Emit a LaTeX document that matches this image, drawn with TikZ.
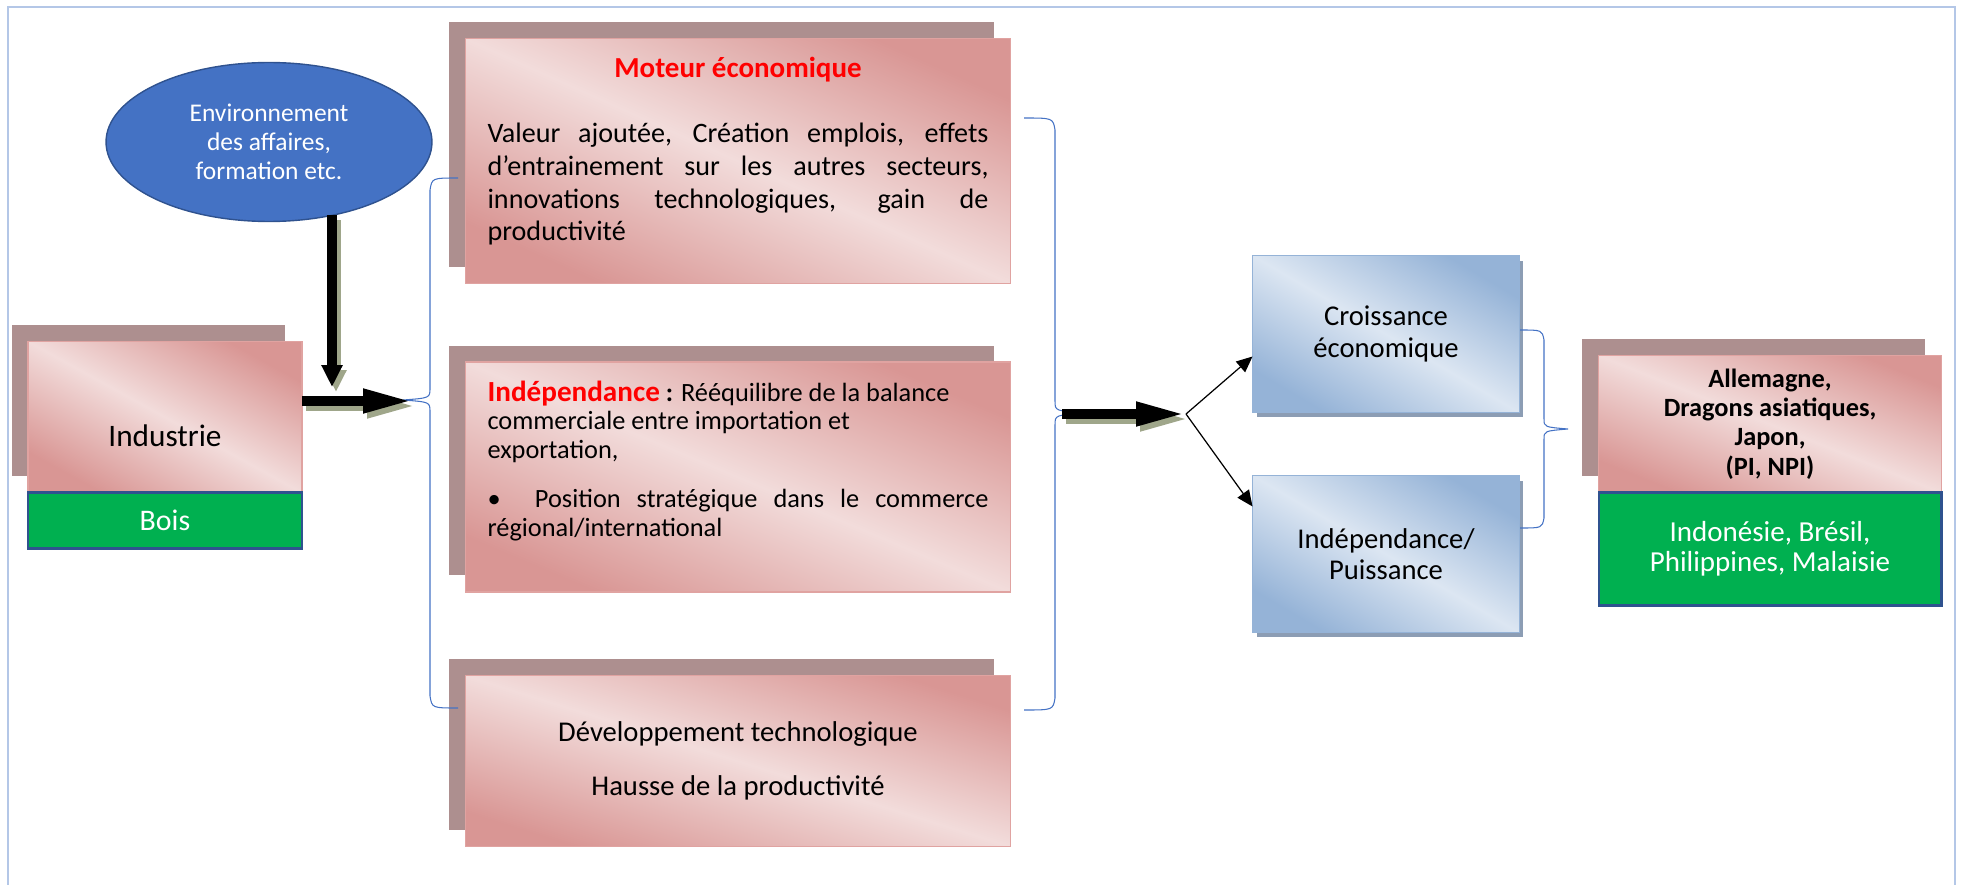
\documentclass[tikz,border=0pt]{standalone}
\usepackage{fontspec}
\setmainfont{Carlito}
\usetikzlibrary{positioning,shapes.geometric,shadows,arrows.meta}
\setlength{\parindent}{0pt}

\definecolor{roseclair}{HTML}{F2DCDB}
\definecolor{rosefonce}{HTML}{D99694}
\definecolor{bordrose}{HTML}{E0A3A1}
\definecolor{ombrerose}{HTML}{AD8F8F}
\definecolor{bleuclair}{HTML}{DCE6F2}
\definecolor{bleufonce}{HTML}{95B3D7}
\definecolor{ombrebleu}{HTML}{8C9DB4}
\definecolor{vertvif}{HTML}{00B050}
\definecolor{bleunuit}{HTML}{2F528F}
\definecolor{bleuellipse}{HTML}{4472C4}
\definecolor{cadrebleu}{HTML}{B4C7E7}
\definecolor{kaki}{HTML}{9FA68A}
\definecolor{rouge}{HTML}{FF0000}

\begin{document}
\begin{tikzpicture}[
  x=0.02cm, y=-0.02cm,
  every node/.style={inner sep=0pt, outer sep=0pt},
  % l'angle suit la diagonale de chaque boite
  boiterose/.style={draw=bordrose, line width=1pt, top color=rosefonce, bottom color=rosefonce,
    middle color=roseclair, shading angle=#1,
    drop shadow={shadow xshift=-0.33cm, shadow yshift=0.33cm, fill=ombrerose, opacity=1}},
  boiterose/.default=-24,
  boitebleue/.style={draw=bleufonce, line width=1pt, top color=bleufonce, bottom color=bleufonce,
    middle color=bleuclair, shading angle=-30.5,
    drop shadow={shadow xshift=0.08cm, shadow yshift=-0.1cm, fill=ombrebleu, opacity=1},
    minimum width=5.34cm, minimum height=3.14cm, align=center, font=\fontsize{16.3}{18}\selectfont},
  boiteverte/.style={draw=bleunuit, line width=1.2pt, fill=vertvif, text=white, align=center}
]
\tikzset{
  grosfleche/.style={line width=0.2cm, -{Triangle[length=1cm, width=0.44cm]}},
  ombre/.style={draw=kaki, transform canvas={xshift=0.08cm, yshift=-0.1cm}},
  fleche/.style={line width=0.7pt, -{Triangle[length=0.32cm, width=0.28cm]}},
  accolade/.style={draw=bleuellipse, line width=0.6pt}
}
\useasboundingbox (0,0) rectangle (1966,885);
\draw[cadrebleu, line width=1.2pt] (8,885) -- (8,7) -- (1955,7) -- (1955,885); % cadre ouvert en bas

\node[ellipse, draw=bleunuit, fill=bleuellipse, line width=0.8pt, minimum width=6.52cm, minimum height=3.18cm,
  text=white, align=center, font=\fontsize{14.5}{16.4}\selectfont] (envi) at (269,142)
  {Environnement\\des affaires,\\formation etc.};

\node[boiterose=-28.9, minimum width=5.48cm, minimum height=3.02cm] (indus) at (165,417) {};
\node[font=\fontsize{17.8}{20}\selectfont] (industrie) at ([yshift=-0.38cm]indus.center) {Industrie};
\node[boiteverte, below=0cm of indus, minimum width=5.48cm, minimum height=1.12cm,
  font=\fontsize{17}{20}\selectfont] (bois) {Bois};

\node[boiterose=-24.2, minimum width=10.9cm, minimum height=4.9cm] (moteur) at (738,161) {};
\node[below=0.38cm of moteur.north, text width=10.02cm, align=justify, font=\fontsize{16}{18.7}\selectfont] (moteurT)
  {{\centering\fontsize{16.5}{18.7}\selectfont\bfseries\color{rouge}Moteur économique\par}\vspace{18pt}
   Valeur ajoutée, Création emplois, effets\linebreak d’entrainement sur les autres secteurs,\linebreak
   innovations technologiques, gain de\linebreak productivité};

\node[boiterose=-22.9, minimum width=10.9cm, minimum height=4.6cm] (independance) at (738,477) {};
\node[below=0.38cm of independance.north, text width=10.02cm, align=justify, font=\fontsize{15}{16.2}\selectfont] (independanceT)
  {{\fontsize{16.6}{16.2}\selectfont\bfseries\color{rouge}Indépendance} \textbf{:} Rééquilibre de la balance\newline
   commerciale entre importation et\newline exportation,\par\vspace{12pt}
   \makebox[27pt][l]{•}Position stratégique dans le commerce\linebreak régional/international};

\node[boiterose=-17.4, minimum width=10.9cm, minimum height=3.42cm, align=center, font=\fontsize{16.3}{19}\selectfont] (techno)
  at (738,761) {Développement technologique\\[12pt]Hausse de la productivité};

\node[boitebleue] (croissance) at (1386,334) {Croissance\\économique};
\node[boitebleue] (puissance) at (1386,554) {Indépendance/\\Puissance};

\node[boiterose=-21.8, minimum width=6.86cm, minimum height=2.74cm, align=center,
  font=\fontsize{15}{16.6}\selectfont\bfseries] (pays) at (1770,424) {Allemagne,\\Dragons asiatiques,\\Japon,\\(PI, NPI)};
\node[boiteverte, below=0cm of pays, minimum width=6.86cm, minimum height=2.26cm,
  font=\fontsize{16.5}{16.8}\selectfont] (emergents) {Indonésie, Brésil,\\Philippines, Malaisie};

% accolades
\draw[accolade] (458,178) .. controls (432,178) .. (430,190) -- (430,388) .. controls (430,398) .. (403,400)
  .. controls (430,402) .. (430,412) -- (430,696) .. controls (432,708) .. (458,708);
\draw[accolade] (1024,118) .. controls (1053,118) .. (1055,130) -- (1055,401) .. controls (1055,411) .. (1087,413)
  .. controls (1055,415) .. (1055,425) -- (1055,698) .. controls (1053,710) .. (1024,710);
\draw[accolade] (1520,330) .. controls (1542,330) .. (1544,340) -- (1544,419) .. controls (1544,427) .. (1568,429)
  .. controls (1544,431) .. (1544,439) -- (1544,518) .. controls (1542,528) .. (1520,528);

\coordinate (chute) at (332,387);
\coordinate (jonction) at (413,401);
\coordinate (depart) at (1062,414);
\coordinate (fourche) at (1186,414);

\draw[grosfleche, -{Triangle[length=0.44cm, width=0.4cm]}, ombre] (envi.-49 -| chute) -- (chute);
\draw[grosfleche, -{Triangle[length=0.44cm, width=0.4cm]}] (envi.-49 -| chute) -- (chute);
\draw[grosfleche, ombre] (indus.east |- jonction) -- (jonction);
\draw[grosfleche] (indus.east |- jonction) -- (jonction);
\draw[grosfleche, ombre] (depart) -- (fourche);
\draw[grosfleche] (depart) -- (fourche);
\draw[fleche] (fourche) -- ([yshift=-0.45cm]croissance.west);
\draw[fleche] (fourche) -- ([yshift=0.95cm]puissance.west);
\end{tikzpicture}
\end{document}
